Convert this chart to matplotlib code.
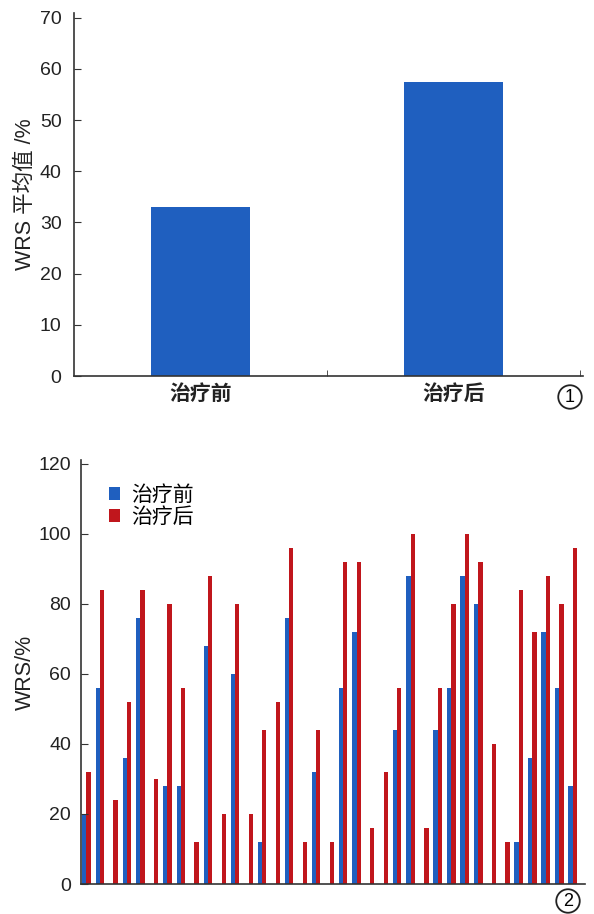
import matplotlib
matplotlib.use("Agg")
import matplotlib.pyplot as plt
import numpy as np

plt.rcParams['font.family'] = ['Liberation Sans', 'Noto Sans CJK SC', 'DejaVu Sans']

# chart 1: mean WRS
groups = ['治疗前', '治疗后']
mean_wrs = [33.1, 57.5]

# chart 2: WRS per case, before / after treatment
wrs_before = [20, 56, 0, 36, 76, 0, 28, 28, 0, 68, 0, 60, 0, 12, 0, 76, 0, 32, 0,
              56, 72, 0, 0, 44, 88, 0, 44, 56, 88, 80, 0, 0, 12, 36, 72, 56, 28]
wrs_after = [32, 84, 24, 52, 84, 30, 80, 56, 12, 88, 20, 80, 20, 44, 52, 96, 12, 44, 12,
             92, 92, 16, 32, 56, 100, 16, 56, 80, 100, 92, 40, 12, 84, 72, 88, 80, 96]

blue = '#1f5fbf'
red = '#c0161c'
axis_col = '#333333'
txt_col = '#222222'

fig = plt.figure(figsize=(5.94, 9.14), dpi=100)

# ---- top chart
ax1 = fig.add_axes([0.1246, 0.5886, 0.8569, 0.3977])
x1 = np.arange(len(groups))
ax1.bar(x1, mean_wrs, width=0.39, color=blue)
ax1.set_xlim(-0.5, 1.51)
ax1.set_ylim(0, 71)
ax1.set_yticks(range(0, 71, 10))
ax1.set_xticks(x1)
ax1.set_xticklabels(groups, fontsize=15, fontweight='bold', color=txt_col)
ax1.tick_params(axis='x', length=0, pad=6)
ax1.set_xticks([0.5, 1.5], minor=True)
ax1.tick_params(axis='x', which='minor', direction='in', length=4, color=axis_col)
ax1.tick_params(axis='y', direction='in', length=5, labelsize=14, color=axis_col,
                labelcolor=txt_col, pad=9)
ax1.set_ylabel('WRS 平均值 /%', fontsize=15.5, color=txt_col, labelpad=3)
for s in ['top', 'right']:
    ax1.spines[s].set_visible(False)
for s in ['left', 'bottom']:
    ax1.spines[s].set_color(axis_col)
    ax1.spines[s].set_linewidth(1.2)

# ---- bottom chart
ax2 = fig.add_axes([0.1359, 0.0328, 0.8489, 0.4639])
x2 = np.arange(len(wrs_before))
w = 0.32
ax2.bar(x2 - w / 2, wrs_before, width=w, color=blue, label='治疗前')
ax2.bar(x2 + w / 2, wrs_after, width=w, color=red, label='治疗后')
ax2.set_xlim(-0.42, 36.9)
ax2.set_ylim(0, 121)
ax2.set_yticks(range(0, 121, 20))
ax2.set_xticks([])
ax2.tick_params(axis='y', direction='in', length=5, labelsize=14, color=axis_col,
                labelcolor=txt_col, pad=7)
ax2.set_ylabel('WRS/%', fontsize=15.5, color=txt_col, labelpad=2)
for s in ['top', 'right']:
    ax2.spines[s].set_visible(False)
for s in ['left', 'bottom']:
    ax2.spines[s].set_color(axis_col)
    ax2.spines[s].set_linewidth(1.2)
ax2.legend(loc='upper left', bbox_to_anchor=(0.018, 0.985), frameon=False,
           handlelength=0.55, handleheight=0.55, handletextpad=0.55,
           labelspacing=0.12, fontsize=15)

# circled figure numbers
fig.text(570 / 594, 1 - 397 / 914, '1', fontsize=13, ha='center', va='center',
         bbox=dict(boxstyle='circle,pad=0.18', fc='white', ec=txt_col, lw=1.3))
fig.text(568 / 594, 1 - 901 / 914, '2', fontsize=13, ha='center', va='center',
         bbox=dict(boxstyle='circle,pad=0.18', fc='white', ec=txt_col, lw=1.3))

fig.savefig('out.png', dpi=100)
